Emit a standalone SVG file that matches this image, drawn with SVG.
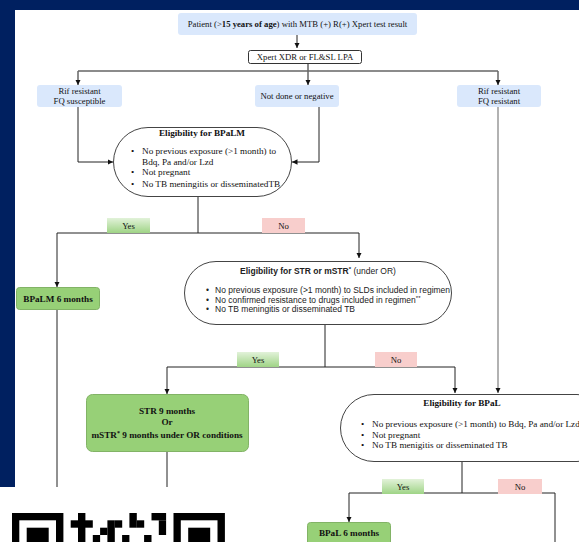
<svg xmlns="http://www.w3.org/2000/svg" width="579" height="542" viewBox="0 0 579 542">
<style>
.s{font-family:"Liberation Serif","Times New Roman",serif;font-size:9.2px;fill:#111}
.sc{font-family:"Liberation Serif","Times New Roman",serif;font-size:9.2px;fill:#111;text-anchor:middle}
.sm{font-size:8.7px}
.b{font-weight:bold}
.a{font-family:"Liberation Sans",Arial,sans-serif;font-size:8.5px;fill:#222}
.ln{fill:none;stroke:#222;stroke-width:1}
.lg{fill:none;stroke:#666;stroke-width:1.5}
.blue{fill:#dae8fc}
.green{fill:#97d077;stroke:#82b366;stroke-width:1}
.yes{fill:url(#gy)}
.no{fill:#f8cecc}
.ell{fill:#fff;stroke:#444;stroke-width:1}
.q{fill:#000}
</style>
<defs>
<marker id="ar" viewBox="0 0 6 6" refX="6" refY="3" markerWidth="5.5" markerHeight="5.5" orient="auto" markerUnits="userSpaceOnUse"><path d="M0,0 L6,3 L0,6 z" fill="#111"/></marker>
<linearGradient id="gy" x1="0" y1="0" x2="0" y2="1"><stop offset="0" stop-color="#e2f2d9"/><stop offset="1" stop-color="#9fd486"/></linearGradient>
</defs>
<rect x="0" y="0" width="579" height="542" fill="#002060"/>
<rect x="15" y="10" width="564" height="532" fill="#fff"/>

<g id="connectors">
<path class="ln" d="M297,35 V48" marker-end="url(#ar)"/>
<path class="lg" d="M308,63 V71 M78,71 H498"/>
<path class="lg" d="M78,71 V85" marker-end="url(#ar)"/>
<path class="lg" d="M308,71 V85" marker-end="url(#ar)"/>
<path class="lg" d="M498,71 V85" marker-end="url(#ar)"/>
<path class="ln" d="M78,107 V162 H113" marker-end="url(#ar)"/>
<path class="ln" d="M319,107 V162 H292" marker-end="url(#ar)"/>
<path fill="none" stroke="#999" stroke-width="1.5" d="M498,107 V393" marker-end="url(#ar)"/>
<path class="ln" d="M198,197 V233 M57,233 H359"/>
<path class="ln" d="M57,233 V287" marker-end="url(#ar)"/>
<path class="ln" d="M359,233 V258" marker-end="url(#ar)"/>
<path class="ln" d="M57,309 V487"/>
<path class="ln" d="M325,325 V367 M167,367 H455"/>
<path class="ln" d="M167,367 V394" marker-end="url(#ar)"/>
<path class="ln" d="M455,367 V393" marker-end="url(#ar)"/>
<path class="ln" d="M167,452 V487"/>
<path class="ln" d="M462,462 V493 M349,493 H555 V542"/>
<path class="ln" d="M349,493 V522" marker-end="url(#ar)"/>
</g>

<g id="n-patient">
<rect class="blue" x="178" y="13" width="239" height="22" rx="3"/>
<text class="sc sm" x="297.5" y="27">Patient (&gt;<tspan class="b">15 years of age</tspan>) with MTB (+) R(+) Xpert test result</text>
</g>
<g id="n-xpert">
<rect x="248.5" y="50.5" width="113" height="13" rx="2" fill="#fff" stroke="#333"/>
<text class="sc sm" x="305" y="60">Xpert XDR or FL&amp;SL LPA</text>
</g>
<g id="n-rfs">
<rect class="blue" x="37" y="85" width="85" height="22" rx="3"/>
<text class="sc sm" x="79.5" y="93.5">Rif resistant</text>
<text class="sc sm" x="79.5" y="104">FQ susceptible</text>
</g>
<g id="n-notdone">
<rect class="blue" x="255" y="85" width="84" height="22" rx="3"/>
<text class="sc sm" x="297" y="99">Not done or negative</text>
</g>
<g id="n-rfr">
<rect class="blue" x="457" y="85" width="84" height="22" rx="3"/>
<text class="sc sm" x="499" y="93.5">Rif resistant</text>
<text class="sc sm" x="499" y="104">FQ resistant</text>
</g>
<g id="n-elig-bpalm">
<rect class="ell" x="113.5" y="127.5" width="178" height="69" rx="34.5"/>
<text class="sc b" x="202" y="136">Eligibility for BPaLM</text>
<text class="s" x="131" y="154">•</text><text class="s" x="142" y="154">No previous exposure (&gt;1 month) to</text>
<text class="s" x="142" y="164.5">Bdq, Pa and/or Lzd</text>
<text class="s" x="131" y="175">•</text><text class="s" x="142" y="175">Not pregnant</text>
<text class="s" x="131" y="186.5">•</text><text class="s" x="142" y="186.5">No TB meningitis or disseminatedTB</text>
</g>
<g id="l-yes1"><rect class="yes" x="107" y="218" width="43" height="15"/><text class="sc sm" x="128.5" y="229">Yes</text></g>
<g id="l-no1"><rect class="no" x="262" y="218" width="43" height="15"/><text class="sc sm" x="283.5" y="229">No</text></g>
<g id="n-bpalm6">
<rect class="green" x="16.5" y="287.5" width="83" height="22" rx="3"/>
<text class="sc b" x="58" y="301.5">BPaLM 6 months</text>
</g>
<g id="n-elig-str">
<rect class="ell" x="184.5" y="261.5" width="267" height="63" rx="31.5"/>
<text class="a" x="318" y="273.5" text-anchor="middle"><tspan font-weight="bold">Eligibility for STR or mSTR</tspan><tspan font-weight="bold" font-size="6px" dy="-3">*</tspan><tspan dy="3"> (under OR)</tspan></text>
<text class="a" x="206" y="293">•</text><text class="a" x="215" y="293">No previous exposure (&gt;1 month) to SLDs included in regimen</text>
<text class="a" x="206" y="302.5">•</text><text class="a" x="215" y="302.5">No confirmed resistance to drugs included in regimen<tspan font-size="6px" dy="-3">**</tspan></text>
<text class="a" x="206" y="312">•</text><text class="a" x="215" y="312">No TB meningitis or disseminated TB</text>
</g>
<g id="l-yes2"><rect class="yes" x="237" y="352" width="42" height="15"/><text class="sc sm" x="258" y="363">Yes</text></g>
<g id="l-no2"><rect class="no" x="375" y="352" width="42" height="15"/><text class="sc sm" x="396" y="363">No</text></g>
<g id="n-str9">
<rect class="green" x="86.5" y="394.5" width="162" height="57" rx="6"/>
<text class="sc b" x="167" y="413.5">STR 9 months</text>
<text class="sc b" x="167" y="425">Or</text>
<text class="sc b" x="167" y="438">mSTR<tspan font-size="6px" dy="-3">*</tspan><tspan dy="3"> 9 months under OR conditions</tspan></text>
</g>
<g id="n-elig-bpal">
<rect class="ell" x="340.5" y="394.5" width="270" height="67" rx="33.5"/>
<text class="sc b" x="462" y="406">Eligibility for BPaL</text>
<text class="s" x="361" y="427">•</text><text class="s" x="372" y="427">No previous exposure (&gt;1 month) to Bdq, Pa and/or Lzd</text>
<text class="s" x="361" y="437.5">•</text><text class="s" x="372" y="437.5">Not pregnant</text>
<text class="s" x="361" y="448">•</text><text class="s" x="372" y="448">No TB menigitis or disseminated TB</text>
</g>
<g id="l-yes3"><rect class="yes" x="382" y="479" width="42" height="15"/><text class="sc sm" x="403" y="490">Yes</text></g>
<g id="l-no3"><rect class="no" x="498" y="479" width="44" height="15"/><text class="sc sm" x="520" y="490">No</text></g>
<g id="n-bpal6">
<rect class="green" x="307.5" y="522.5" width="83" height="24" rx="3"/>
<text class="sc b" x="349" y="536">BPaL 6 months</text>
</g>

<g id="qr">
<rect x="0" y="487" width="270" height="55" fill="#fff"/>
<rect class="q" x="12" y="513" width="51.4" height="51.4"/>
<rect x="19.3" y="520.3" width="36.7" height="36.7" fill="#fff"/>
<rect class="q" x="26.7" y="527.7" width="22" height="22"/>
<rect class="q" x="173.5" y="513" width="51.4" height="51.4"/>
<rect x="180.8" y="520.3" width="36.7" height="36.7" fill="#fff"/>
<rect class="q" x="188.2" y="527.7" width="22" height="22"/>
<rect class="q" x="78" y="513" width="7.4" height="30"/>
<rect class="q" x="70.7" y="520.3" width="22.1" height="7.4"/>
<rect class="q" x="107.4" y="520.3" width="7.4" height="22"/>
<rect class="q" x="114.8" y="520.3" width="7.4" height="7.4"/>
<rect class="q" x="129.4" y="513" width="7.4" height="14.7"/>
<rect class="q" x="136.8" y="520.3" width="7.4" height="7.4"/>
<rect class="q" x="151.5" y="513" width="14.6" height="7.4"/>
<rect class="q" x="158.8" y="520.3" width="7.3" height="14.7"/>
<rect class="q" x="100.1" y="527.7" width="7.3" height="7.3"/>
<rect class="q" x="122.1" y="535" width="7.3" height="7"/>
<rect class="q" x="92.8" y="535" width="7.3" height="7"/>
<rect class="q" x="144.1" y="535" width="7.4" height="7"/>
</g>
</svg>
